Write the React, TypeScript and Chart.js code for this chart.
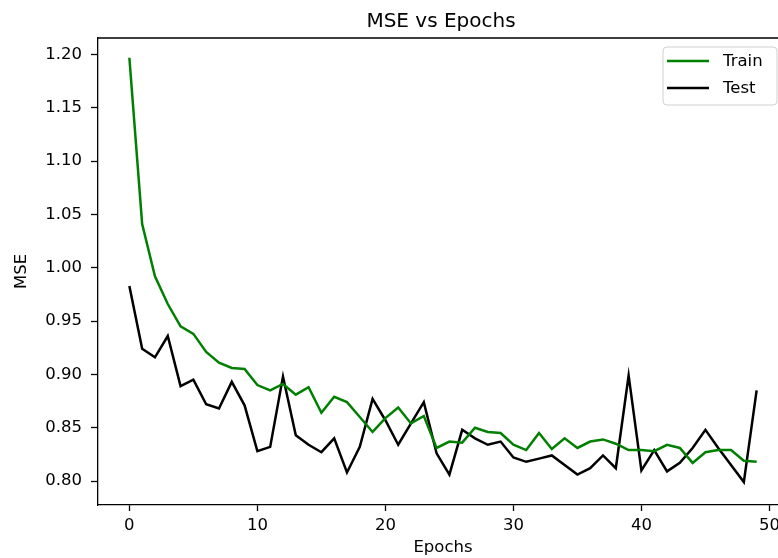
import React, { useEffect, useRef } from "react";
import { Chart, registerables } from "chart.js";

Chart.register(...registerables);

const epochs = [
  0, 1, 2, 3, 4, 5, 6, 7, 8, 9, 10, 11, 12, 13, 14, 15, 16, 17, 18, 19, 20, 21, 22, 23, 24,
  25, 26, 27, 28, 29, 30, 31, 32, 33, 34, 35, 36, 37, 38, 39, 40, 41, 42, 43, 44, 45, 46, 47, 48, 49,
];

const trainMSE = [
  1.197, 1.041, 0.992, 0.966, 0.945, 0.938, 0.921, 0.911, 0.906, 0.905, 0.89, 0.885, 0.891,
  0.881, 0.888, 0.864, 0.879, 0.874, 0.86, 0.846, 0.859, 0.869, 0.854, 0.861, 0.831, 0.837,
  0.836, 0.85, 0.846, 0.845, 0.834, 0.829, 0.845, 0.83, 0.84, 0.831, 0.837, 0.839, 0.835,
  0.829, 0.829, 0.828, 0.834, 0.831, 0.817, 0.827, 0.829, 0.829, 0.819, 0.818,
];

const testMSE = [
  0.983, 0.924, 0.916, 0.936, 0.889, 0.895, 0.872, 0.868, 0.893, 0.871, 0.828, 0.832, 0.898,
  0.843, 0.834, 0.827, 0.84, 0.808, 0.832, 0.877, 0.857, 0.834, 0.854, 0.874, 0.826, 0.806,
  0.848, 0.84, 0.834, 0.837, 0.822, 0.818, 0.821, 0.824, 0.815, 0.806, 0.812, 0.824, 0.812,
  0.899, 0.81, 0.829, 0.809, 0.817, 0.831, 0.848, 0.831, 0.815, 0.799, 0.885,
];

const xTicks = [0, 10, 20, 30, 40, 50];
const yTicks = [0.8, 0.85, 0.9, 0.95, 1.0, 1.05, 1.1, 1.15, 1.2];

const FONT = '"DejaVu Sans", sans-serif';
const TICK_SIZE = 16.5;

const framePlugin = {
  id: "frameTitleLegend",
  afterDraw(chart: any) {
    const { ctx, chartArea } = chart;
    const { left, right, top, bottom } = chartArea;
    ctx.save();
    // top & right spines
    ctx.strokeStyle = "#000";
    ctx.lineWidth = 1.3;
    ctx.beginPath();
    ctx.moveTo(left, top);
    ctx.lineTo(right, top);
    ctx.lineTo(right, bottom);
    ctx.stroke();

    // title
    ctx.fillStyle = "#000";
    ctx.font = `20px ${FONT}`;
    ctx.textAlign = "center";
    ctx.textBaseline = "alphabetic";
    ctx.fillText("MSE vs Epochs", (left + right) / 2 - 2, 27);

    // legend
    const bw = 114;
    const bh = 58;
    const bx = right - 11 - bw;
    const by = top + 9;
    const r = 4;
    ctx.beginPath();
    ctx.moveTo(bx + r, by);
    ctx.lineTo(bx + bw - r, by);
    ctx.quadraticCurveTo(bx + bw, by, bx + bw, by + r);
    ctx.lineTo(bx + bw, by + bh - r);
    ctx.quadraticCurveTo(bx + bw, by + bh, bx + bw - r, by + bh);
    ctx.lineTo(bx + r, by + bh);
    ctx.quadraticCurveTo(bx, by + bh, bx, by + bh - r);
    ctx.lineTo(bx, by + r);
    ctx.quadraticCurveTo(bx, by, bx + r, by);
    ctx.closePath();
    ctx.fillStyle = "rgba(255,255,255,0.8)";
    ctx.fill();
    ctx.strokeStyle = "rgba(204,204,204,0.9)";
    ctx.lineWidth = 1;
    ctx.stroke();

    const rows = [14, 41];
    chart.data.datasets.forEach((ds: any, i: number) => {
      const yy = by + rows[i];
      ctx.strokeStyle = ds.borderColor;
      ctx.lineWidth = 2.5;
      ctx.beginPath();
      ctx.moveTo(bx + 4, yy);
      ctx.lineTo(bx + 46, yy);
      ctx.stroke();
      ctx.fillStyle = "#000";
      ctx.font = `${TICK_SIZE}px ${FONT}`;
      ctx.textAlign = "left";
      ctx.textBaseline = "middle";
      ctx.fillText(ds.label, bx + 60, yy + 1);
    });
    ctx.restore();
  },
};

export default function App() {
  const canvasRef = useRef<HTMLCanvasElement | null>(null);

  useEffect(() => {
    const canvas = canvasRef.current;
    if (!canvas) return;
    const chart = new Chart(canvas, {
      type: "line",
      data: {
        datasets: [
          {
            label: "Train",
            data: epochs.map((e, i) => ({ x: e, y: trainMSE[i] })),
            borderColor: "#008000",
            backgroundColor: "#008000",
            borderWidth: 2.5,
            pointRadius: 0,
            tension: 0,
            fill: false,
          },
          {
            label: "Test",
            data: epochs.map((e, i) => ({ x: e, y: testMSE[i] })),
            borderColor: "#000000",
            backgroundColor: "#000000",
            borderWidth: 2.5,
            pointRadius: 0,
            tension: 0,
            fill: false,
          },
        ],
      },
      options: {
        animation: false,
        responsive: false,
        devicePixelRatio: 1,
        layout: { padding: { left: 0, top: 38, right: 12, bottom: 0 } },
        plugins: {
          legend: { display: false },
          title: { display: false },
          tooltip: { enabled: false },
        },
        scales: {
          x: {
            type: "linear",
            min: -2.45,
            max: 51.45,
            afterBuildTicks: (scale: any) => {
              scale.ticks = xTicks.map((v) => ({ value: v }));
            },
            afterFit: (scale: any) => {
              scale.height = 53;
            },
            grid: {
              display: true,
              drawOnChartArea: false,
              drawTicks: true,
              tickLength: 6,
              tickColor: "#000",
              tickWidth: 1.3,
            },
            border: { display: true, color: "#000", width: 1.3 },
            ticks: {
              color: "#000",
              padding: 5,
              maxRotation: 0,
              autoSkip: false,
              font: { family: FONT, size: TICK_SIZE },
              callback: (v: any) => String(v),
            },
            title: {
              display: true,
              text: "Epochs",
              color: "#000",
              font: { family: FONT, size: TICK_SIZE, lineHeight: 1.2 },
              padding: { top: 0, bottom: 0 },
            },
          },
          y: {
            type: "linear",
            min: 0.7775,
            max: 1.2155,
            afterBuildTicks: (scale: any) => {
              scale.ticks = yTicks.map((v) => ({ value: v }));
            },
            afterFit: (scale: any) => {
              scale.width = 98;
            },
            grid: {
              display: true,
              drawOnChartArea: false,
              drawTicks: true,
              tickLength: 7,
              tickColor: "#000",
              tickWidth: 1.3,
            },
            border: { display: true, color: "#000", width: 1.3 },
            ticks: {
              color: "#000",
              padding: 9,
              autoSkip: false,
              font: { family: FONT, size: TICK_SIZE },
              callback: (v: any) => Number(v).toFixed(2),
            },
            title: {
              display: true,
              text: "MSE",
              color: "#000",
              font: { family: FONT, size: TICK_SIZE, lineHeight: 1.2 },
              padding: { top: 12, bottom: 0 },
            },
          },
        },
      },
      plugins: [framePlugin],
    } as any);
    return () => chart.destroy();
  }, []);

  return (
    <div
      style={{
        position: "fixed",
        left: 0,
        top: 0,
        width: 778,
        height: 558,
        overflow: "hidden",
        background: "#fff",
      }}
    >
      <canvas ref={canvasRef} width={800} height={558} style={{ display: "block" }} />
    </div>
  );
}
